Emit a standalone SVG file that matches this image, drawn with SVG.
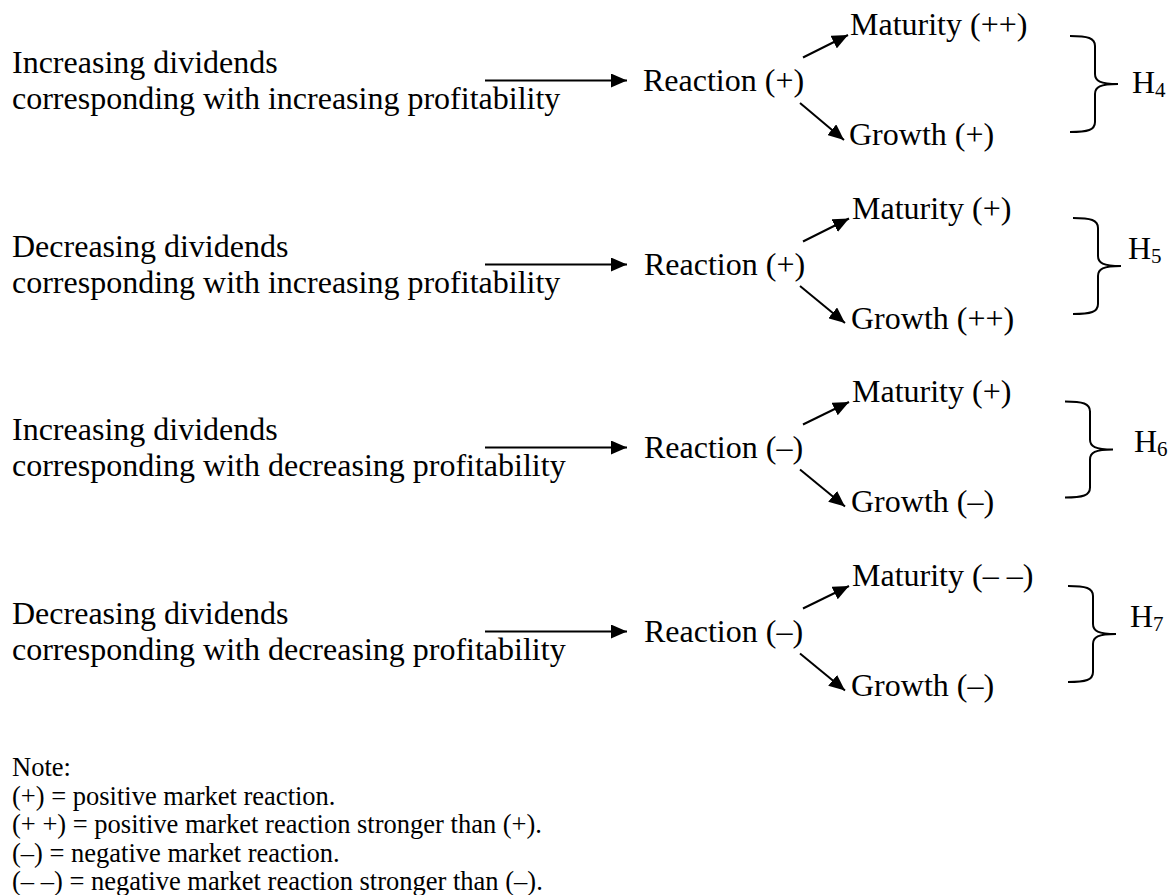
<svg xmlns="http://www.w3.org/2000/svg" width="1173" height="895" viewBox="0 0 1173 895">
<style>
text{font-family:"Liberation Serif","Times New Roman",serif;fill:#000}
.t{font-size:32px}
.n{font-size:26.5px}
.sub{font-size:21px}
.c{stroke:#000;stroke-width:2;fill:none}
.b{stroke:#000;stroke-width:2;fill:none}
</style>
<defs>
<marker id="ah" markerUnits="userSpaceOnUse" markerWidth="17" markerHeight="14" refX="16" refY="7" orient="auto">
<path d="M0,0 L16,7 L0,14 z" fill="#000"/>
</marker>
<path id="brace" d="M0,0 C18,0 25,2 25,10 L25,38 C25,45 30,48 48,48 C30,48 25,51 25,58 L25,86 C25,94 18,96 0,96"/>
</defs>
<rect width="1173" height="895" fill="#fff"/>

<g id="connectors">
<line class="c" x1="485" y1="80.5" x2="627" y2="80.5" marker-end="url(#ah)"/>
<line class="c" x1="803" y1="57.5" x2="848" y2="35" marker-end="url(#ah)"/>
<line class="c" x1="800" y1="103" x2="844" y2="140" marker-end="url(#ah)"/>

<line class="c" x1="485" y1="264.5" x2="627" y2="264.5" marker-end="url(#ah)"/>
<line class="c" x1="803" y1="241.5" x2="849" y2="218.5" marker-end="url(#ah)"/>
<line class="c" x1="800" y1="286" x2="845" y2="323" marker-end="url(#ah)"/>

<line class="c" x1="485" y1="447.5" x2="627" y2="447.5" marker-end="url(#ah)"/>
<line class="c" x1="803" y1="424.5" x2="849" y2="402" marker-end="url(#ah)"/>
<line class="c" x1="800" y1="469.5" x2="845" y2="506.5" marker-end="url(#ah)"/>

<line class="c" x1="485" y1="631.5" x2="627" y2="631.5" marker-end="url(#ah)"/>
<line class="c" x1="803" y1="608.5" x2="849" y2="586" marker-end="url(#ah)"/>
<line class="c" x1="800" y1="653.5" x2="845" y2="690.5" marker-end="url(#ah)"/>
</g>

<g id="row1-cause"><text class="t" x="12" y="73">Increasing dividends</text><text class="t" x="12" y="108.5">corresponding with increasing profitability</text></g>
<g id="row1-reaction"><text class="t" x="643" y="91">Reaction (+)</text></g>
<g id="row1-maturity"><text class="t" x="850" y="35">Maturity (++)</text></g>
<g id="row1-growth"><text class="t" x="849" y="144.5">Growth (+)</text></g>
<g id="row1-hypothesis"><use href="#brace" class="b" x="1070" y="36"/><text class="t" x="1132" y="93">H<tspan class="sub" dy="4">4</tspan></text></g>

<g id="row2-cause"><text class="t" x="12" y="257">Decreasing dividends</text><text class="t" x="12" y="292.5">corresponding with increasing profitability</text></g>
<g id="row2-reaction"><text class="t" x="644" y="275">Reaction (+)</text></g>
<g id="row2-maturity"><text class="t" x="852" y="219">Maturity (+)</text></g>
<g id="row2-growth"><text class="t" x="851" y="328.5">Growth (++)</text></g>
<g id="row2-hypothesis"><use href="#brace" class="b" x="1073" y="218"/><text class="t" x="1128" y="259">H<tspan class="sub" dy="4">5</tspan></text></g>

<g id="row3-cause"><text class="t" x="12" y="440">Increasing dividends</text><text class="t" x="12" y="475.5">corresponding with decreasing profitability</text></g>
<g id="row3-reaction"><text class="t" x="644" y="458">Reaction (–)</text></g>
<g id="row3-maturity"><text class="t" x="852" y="402">Maturity (+)</text></g>
<g id="row3-growth"><text class="t" x="851" y="511.5">Growth (–)</text></g>
<g id="row3-hypothesis"><use href="#brace" class="b" x="1065" y="401.5"/><text class="t" x="1134" y="452">H<tspan class="sub" dy="4">6</tspan></text></g>

<g id="row4-cause"><text class="t" x="12" y="624">Decreasing dividends</text><text class="t" x="12" y="659.5">corresponding with decreasing profitability</text></g>
<g id="row4-reaction"><text class="t" x="644" y="642">Reaction (–)</text></g>
<g id="row4-maturity"><text class="t" x="852" y="586">Maturity (– –)</text></g>
<g id="row4-growth"><text class="t" x="851" y="695.5">Growth (–)</text></g>
<g id="row4-hypothesis"><use href="#brace" class="b" x="1068" y="586"/><text class="t" x="1130" y="627">H<tspan class="sub" dy="4">7</tspan></text></g>

<g id="note">
<text class="n" x="12" y="776">Note:</text>
<text class="n" x="12" y="804.5">(+) = positive market reaction.</text>
<text class="n" x="12" y="833">(+ +) = positive market reaction stronger than (+).</text>
<text class="n" x="12" y="861.5">(–) = negative market reaction.</text>
<text class="n" x="12" y="890">(– –) = negative market reaction stronger than (–).</text>
</g>
</svg>
